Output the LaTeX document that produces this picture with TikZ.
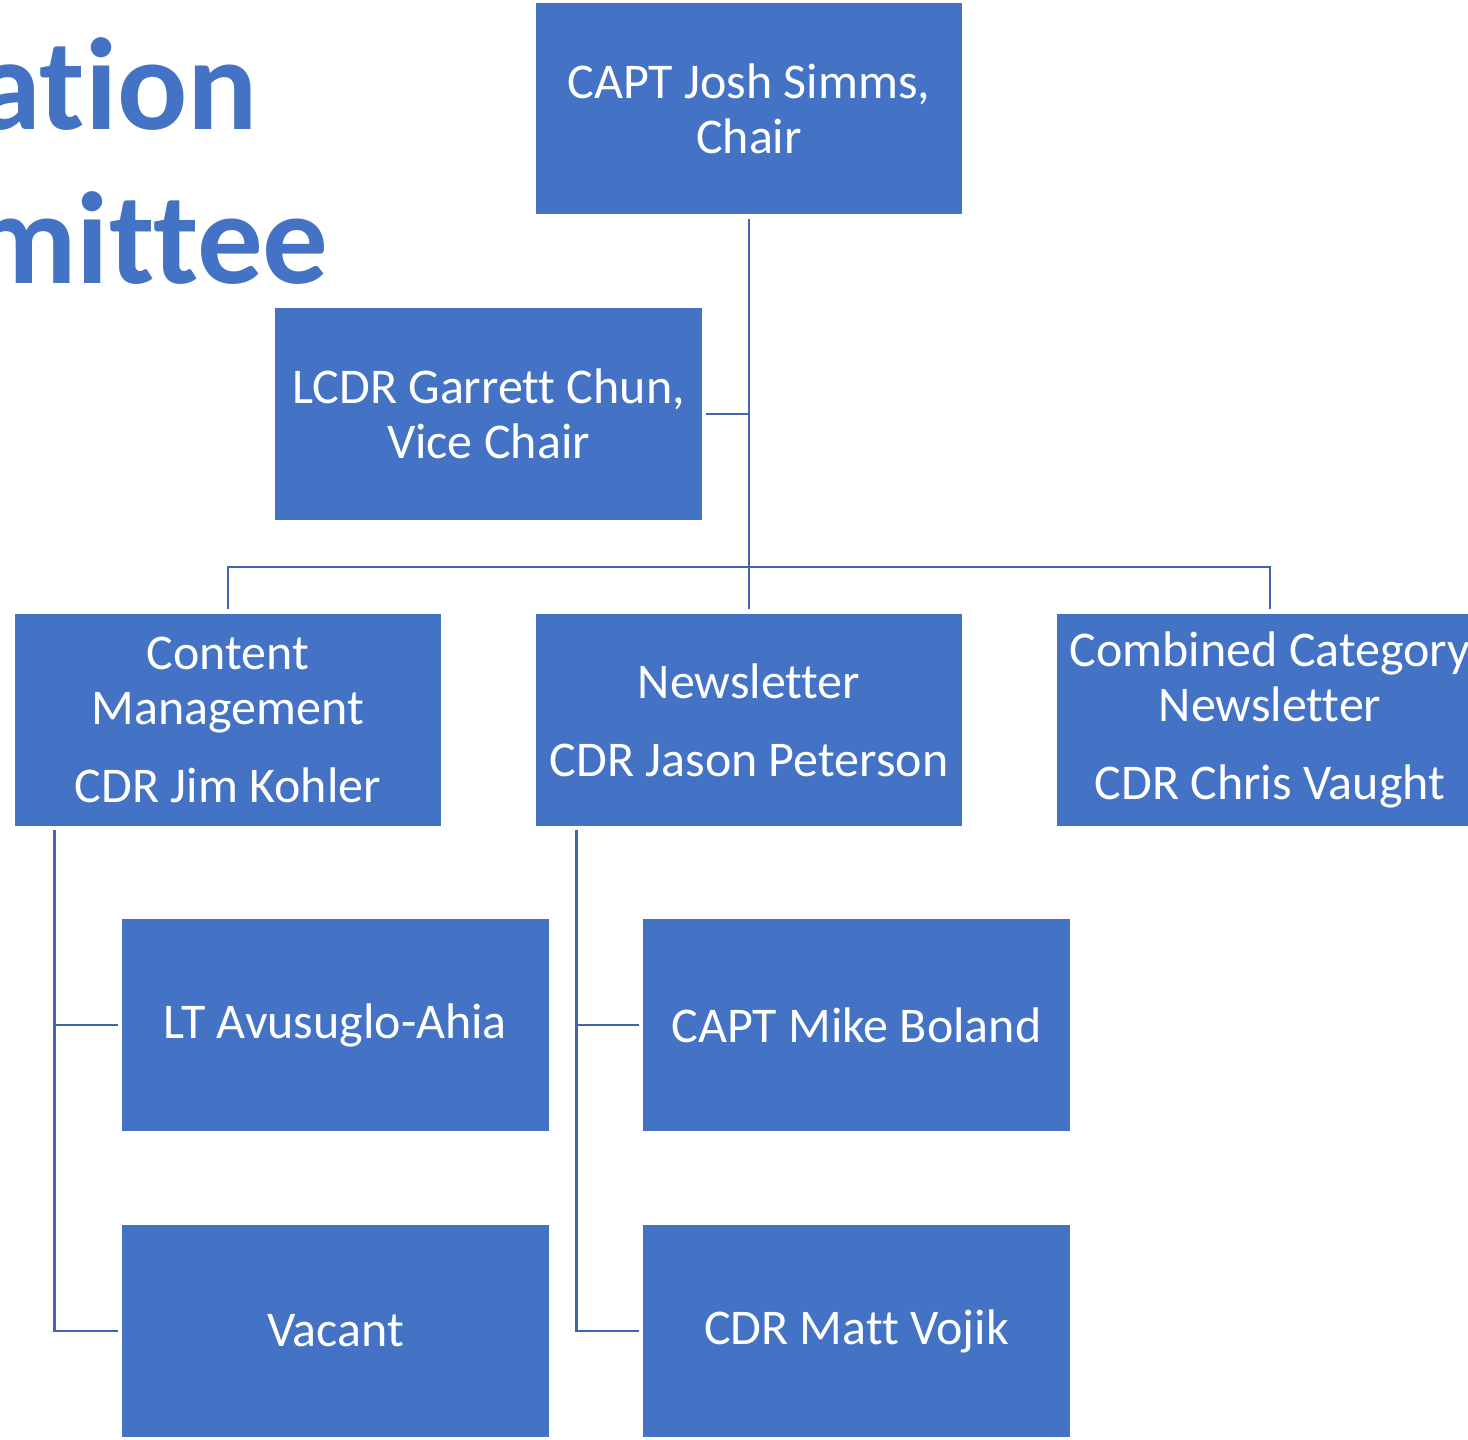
\documentclass[tikz,border=0pt]{standalone}
\usepackage{fontspec}
\setmainfont{Carlito}[Ligatures=NoCommon]
\definecolor{boxblue}{HTML}{4472C4}
\definecolor{lineblue}{HTML}{4166B1}
\begin{document}
\begin{tikzpicture}[x=1pt,y=-1pt,
  box/.style={rectangle, fill=boxblue, draw=white, line width=1.2pt, text=white,
    minimum width=428pt, minimum height=213pt, inner sep=0pt, align=center,
    font=\fontsize{50}{55}\selectfont},
  conn/.style={draw=lineblue, line width=2.2pt},
  title/.style={text=boxblue, font=\fontsize{131}{154}\bfseries\selectfont, inner sep=0pt, anchor=base east}]
\useasboundingbox (0,0) rectangle (1468,1440);
\clip (0,0) rectangle (1468,1440);
\fill[white] (0,0) rectangle (1468,1440);
% title (cut off at left, as in the reference)
\node[title] (t1) at (258,129) {ation};
\node[title] (t2) at (329,283) {mittee};
% boxes
\node[box] (chair) at (749,108.5) {CAPT Josh Simms,\\Chair};
\node[box] (vice) at (488.5,414) {LCDR Garrett Chun,\\Vice Chair};
\node[box] (cm) at (228,720) {Content\\Management\\[23pt]CDR Jim Kohler};
\node[box] (nl) at (749,720) {Newsletter\\[23pt]CDR Jason Peterson};
\node[box] (ccn) at (1270,720) {Combined Category\\Newsletter\\[23pt]CDR Chris Vaught};
\node[box] (lt) at (335.5,1025) {LT Avusuglo-Ahia};
\node[box] (vac) at (335.5,1331) {Vacant};
\node[box] (mb) at (856.5,1025) {CAPT Mike Boland};
\node[box] (mv) at (856.5,1331) {CDR Matt Vojik};
% connectors
\draw[conn] ([yshift=-3pt]chair.south) -- ([yshift=4pt]nl.north);
\draw[conn] ([xshift=3pt]vice.east) -- (vice.east -| chair.south);
\coordinate (bus) at (749,567);
\draw[conn] ([yshift=4pt]cm.north) |- (bus) -| ([yshift=4pt]ccn.north);
\coordinate (cmv) at ([xshift=41pt,yshift=-3pt]cm.south west);
\draw[conn] (cmv) |- ([xshift=-3pt]vac.west);
\draw[conn] (cmv |- lt.west) -- ([xshift=-3pt]lt.west);
\coordinate (nlv) at ([xshift=42pt,yshift=-3pt]nl.south west);
\draw[conn] (nlv) |- ([xshift=-3pt]mv.west);
\draw[conn] (nlv |- mb.west) -- ([xshift=-3pt]mb.west);
\end{tikzpicture}
\end{document}
